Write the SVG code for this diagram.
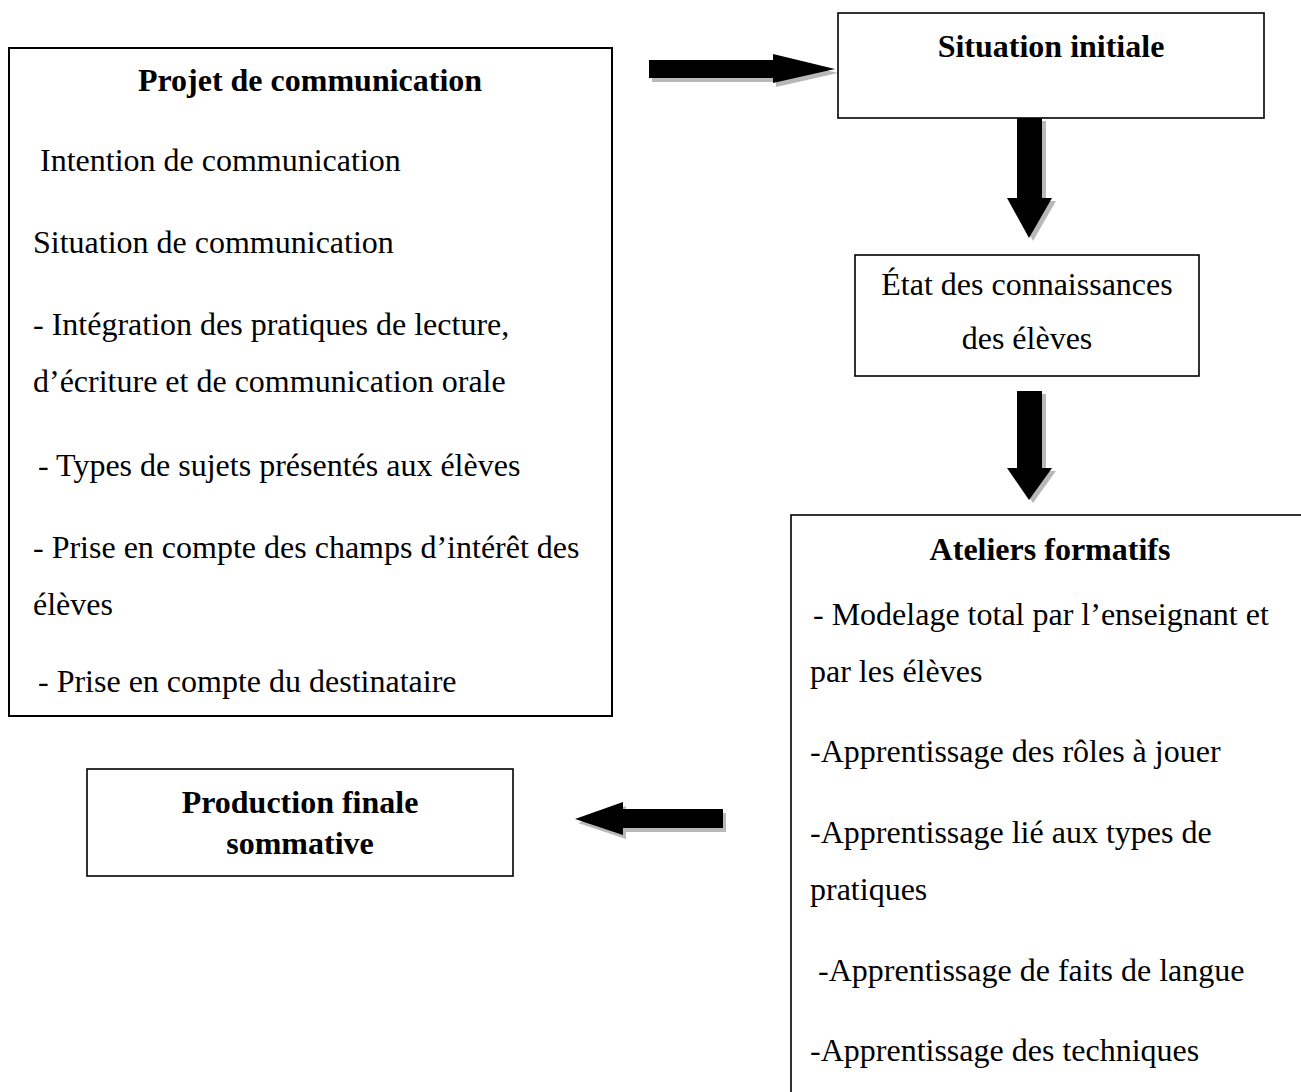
<svg xmlns="http://www.w3.org/2000/svg" width="1301" height="1092" viewBox="0 0 1301 1092">
<style>
.box{fill:#fff;stroke:#000;stroke-width:1.6}
.t{font-family:"Liberation Serif","Times New Roman",serif;font-size:32px;fill:#000}
.b{font-weight:bold}
.c{text-anchor:middle}
.arr{fill:#000}
.sh{fill:#b8b8b8}
</style>
<rect width="1301" height="1092" fill="#fff"/>
<g id="connectors">
  <g id="arrow-projet-situation">
    <polygon class="sh" transform="translate(3,4)" points="649,60 773,60 773,54 835,69 773,83 773,78 649,78"/>
    <polygon class="arr" points="649,60 773,60 773,54 835,69 773,83 773,78 649,78"/>
  </g>
  <g id="arrow-situation-etat">
    <polygon class="sh" transform="translate(4,3)" points="1017,118 1042,118 1042,198 1052,198 1029,238 1007,198 1017,198"/>
    <polygon class="arr" points="1017,118 1042,118 1042,198 1052,198 1029,238 1007,198 1017,198"/>
  </g>
  <g id="arrow-etat-ateliers">
    <polygon class="sh" transform="translate(4,3)" points="1017,391 1042,391 1042,468 1052,468 1029,500 1007,468 1017,468"/>
    <polygon class="arr" points="1017,391 1042,391 1042,468 1052,468 1029,500 1007,468 1017,468"/>
  </g>
  <g id="arrow-ateliers-production">
    <polygon class="sh" transform="translate(3,4)" points="723,809 723,828 623,828 623,835 575,819 623,802 623,809"/>
    <polygon class="arr" points="723,809 723,828 623,828 623,835 575,819 623,802 623,809"/>
  </g>
</g>
<g id="projet">
  <rect class="box" x="9" y="48" width="603" height="668" style="stroke-width:2"/>
  <text class="t b c" x="310" y="91">Projet de communication</text>
  <text class="t" x="40" y="171">Intention de communication</text>
  <text class="t" x="33" y="253">Situation de communication</text>
  <text class="t" x="33" y="335">- Intégration des pratiques de lecture,</text>
  <text class="t" x="33" y="392">d’écriture et de communication orale</text>
  <text class="t" x="38" y="476">- Types de sujets présentés aux élèves</text>
  <text class="t" x="33" y="558">- Prise en compte des champs d’intérêt des</text>
  <text class="t" x="33" y="615">élèves</text>
  <text class="t" x="38" y="692">- Prise en compte du destinataire</text>
</g>
<g id="situation">
  <rect class="box" x="838" y="13" width="426" height="105"/>
  <text class="t b c" x="1051" y="57">Situation initiale</text>
</g>
<g id="etat">
  <rect class="box" x="855" y="255" width="344" height="121"/>
  <text class="t c" x="1027" y="295">État des connaissances</text>
  <text class="t c" x="1027" y="349">des élèves</text>
</g>
<g id="ateliers">
  <rect class="box" x="791" y="515" width="520" height="600"/>
  <text class="t b c" x="1050" y="560">Ateliers formatifs</text>
  <text class="t" x="813" y="625">- Modelage total par l’enseignant et</text>
  <text class="t" x="810" y="682">par les élèves</text>
  <text class="t" x="810" y="762">-Apprentissage des rôles à jouer</text>
  <text class="t" x="810" y="843">-Apprentissage lié aux types de</text>
  <text class="t" x="810" y="900">pratiques</text>
  <text class="t" x="818" y="981">-Apprentissage de faits de langue</text>
  <text class="t" x="810" y="1061">-Apprentissage des techniques</text>
</g>
<g id="production">
  <rect class="box" x="87" y="769" width="426" height="107"/>
  <text class="t b c" x="300" y="813">Production finale</text>
  <text class="t b c" x="300" y="854">sommative</text>
</g>
</svg>
